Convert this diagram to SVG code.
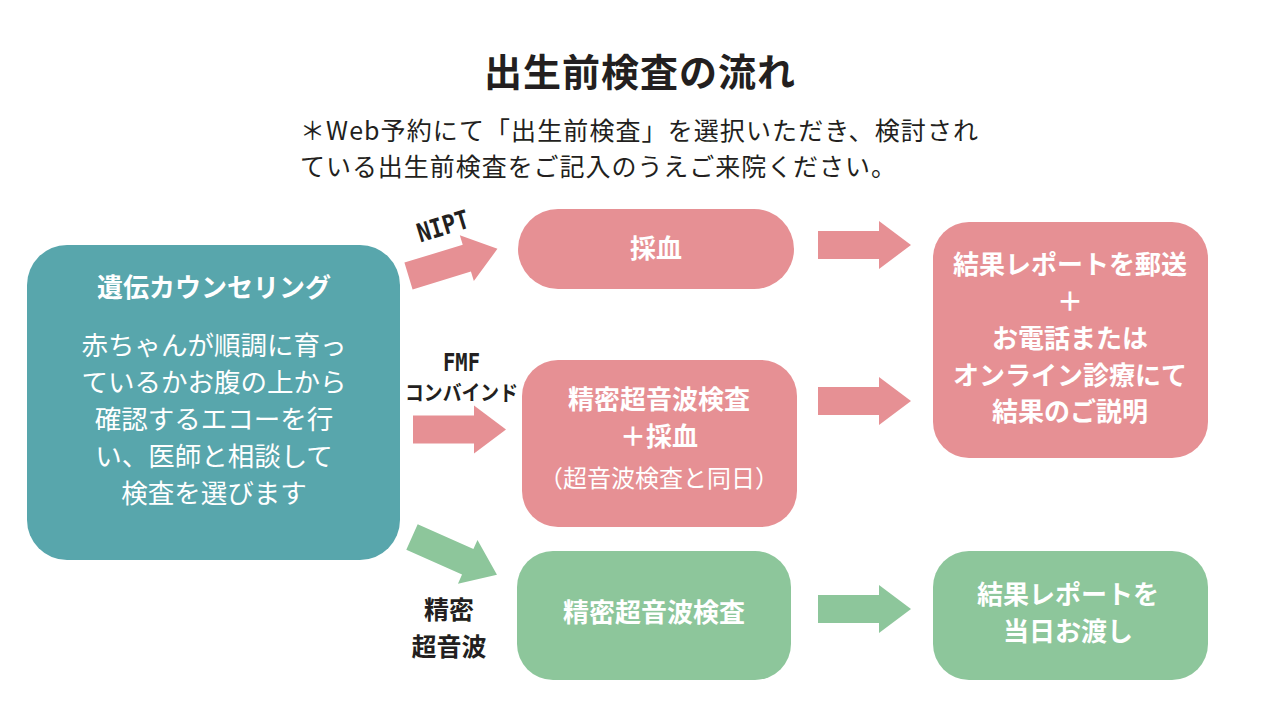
<svg xmlns="http://www.w3.org/2000/svg" width="1280" height="720" viewBox="0 0 1280 720">
<style>
.jp{font-family:"Noto Sans CJK JP","Noto Sans",sans-serif;}
.w{fill:#FFFFFF;}
.b{font-weight:bold;}
.d{fill:#231F20;}
.lbl{font-family:"DejaVu Sans Mono","Noto Sans CJK JP",monospace;font-weight:bold;fill:#231F20;}
.pink{fill:#E69094;}
.green{fill:#8DC69B;}
.teal{fill:#58A6AC;}
</style>
<defs>
<polygon id="arr" points="0,-14 61,-14 61,-24 93,0 61,24 61,14 0,14"/>
</defs>
<rect width="1280" height="720" fill="#FFFFFF"/>
<g id="title">
<text class="jp b d" x="640" y="86" font-size="38" text-anchor="middle" letter-spacing="1">出生前検査の流れ</text>
</g>
<g id="note">
<text class="jp d" x="300" y="140" font-size="25" textLength="678" lengthAdjust="spacing">＊Web予約にて「出生前検査」を選択いただき、検討され</text>
<text class="jp d" x="300" y="176" font-size="25" textLength="596" lengthAdjust="spacing">ている出生前検査をご記入のうえご来院ください。</text>
</g>
<g id="connectors">
<use href="#arr" class="pink" transform="translate(408.5,276) rotate(-17)"/>
<use href="#arr" class="pink" transform="translate(413,429.5)"/>
<use href="#arr" class="green" transform="translate(412,537) rotate(24)"/>
<use href="#arr" class="pink" transform="translate(818,245)"/>
<use href="#arr" class="pink" transform="translate(818,401)"/>
<use href="#arr" class="green" transform="translate(818,609)"/>
<text class="lbl" x="-26" y="0" font-size="26" textLength="53" lengthAdjust="spacingAndGlyphs" transform="translate(445,235) rotate(-17)">NIPT</text>
<text class="lbl" x="443" y="371" font-size="24" textLength="37" lengthAdjust="spacingAndGlyphs">FMF</text>
<text class="lbl" x="405" y="400" font-size="21" textLength="113" lengthAdjust="spacingAndGlyphs">コンバインド</text>
<text class="jp b d" x="449" y="619" font-size="25" text-anchor="middle">精密</text>
<text class="jp b d" x="449" y="656" font-size="25" text-anchor="middle">超音波</text>
</g>
<g id="counseling">
<rect class="teal" x="27" y="245" width="373" height="315" rx="40"/>
<text class="jp b w" x="214" y="297" font-size="26" text-anchor="middle">遺伝カウンセリング</text>
<text class="jp w" x="214" y="355" font-size="26.5" text-anchor="middle">赤ちゃんが順調に育っ</text>
<text class="jp w" x="214" y="392" font-size="26.5" text-anchor="middle">ているかお腹の上から</text>
<text class="jp w" x="214" y="429" font-size="26.5" text-anchor="middle">確認するエコーを行</text>
<text class="jp w" x="214" y="466" font-size="26.5" text-anchor="middle">い、医師と相談して</text>
<text class="jp w" x="214" y="503" font-size="26.5" text-anchor="middle">検査を選びます</text>
</g>
<g id="blood">
<rect class="pink" x="518" y="209" width="276" height="80" rx="40"/>
<text class="jp b w" x="656" y="258" font-size="26" text-anchor="middle">採血</text>
</g>
<g id="combined">
<rect class="pink" x="522" y="360" width="275" height="167" rx="36"/>
<text class="jp b w" x="659" y="409" font-size="26" text-anchor="middle">精密超音波検査</text>
<text class="jp b w" x="659" y="446" font-size="26" text-anchor="middle">＋採血</text>
<text class="jp w" x="659" y="487" font-size="24" text-anchor="middle">（超音波検査と同日）</text>
</g>
<g id="ultrasound">
<rect class="green" x="517" y="551" width="274" height="129" rx="36"/>
<text class="jp b w" x="654" y="622" font-size="26" text-anchor="middle">精密超音波検査</text>
</g>
<g id="result-mail">
<rect class="pink" x="933" y="222" width="275" height="236" rx="36"/>
<text class="jp b w" x="1070" y="274" font-size="26" text-anchor="middle">結果レポートを郵送</text>
<text class="jp b w" x="1070" y="311" font-size="26" text-anchor="middle">＋</text>
<text class="jp b w" x="1070" y="348" font-size="26" text-anchor="middle">お電話または</text>
<text class="jp b w" x="1070" y="385" font-size="26" text-anchor="middle">オンライン診療にて</text>
<text class="jp b w" x="1070" y="421" font-size="26" text-anchor="middle">結果のご説明</text>
</g>
<g id="result-sameday">
<rect class="green" x="933" y="551" width="275" height="129" rx="36"/>
<text class="jp b w" x="1068" y="604" font-size="26" text-anchor="middle">結果レポートを</text>
<text class="jp b w" x="1068" y="641" font-size="26" text-anchor="middle">当日お渡し</text>
</g>
</svg>
